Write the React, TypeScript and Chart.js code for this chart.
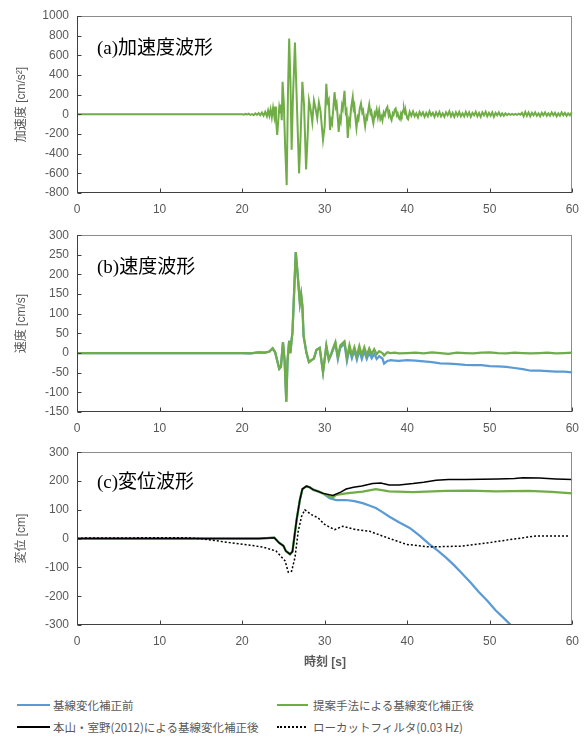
import React, { useEffect, useRef } from "react";
import { Chart, registerables } from "chart.js";
Chart.register(...registerables);

// ---------- data ----------
const X_MIN = 0;
const X_MAX = 60;
const X_STEP = 10;

// (a) acceleration [cm/s2]
const accTime = [0, 19.5, 20.0, 20.2, 20.4, 20.6, 20.8, 21.0, 21.2, 21.4, 21.6, 21.8, 22.0, 22.2, 22.4, 22.6, 22.8, 23.0, 23.15, 23.3, 23.45, 23.6, 23.75, 23.9, 24.0, 24.1, 24.25, 24.4, 24.5, 24.6, 24.7, 24.8, 24.9, 25.05, 25.2, 25.4, 25.55, 25.7, 25.85, 26.0, 26.15, 26.4, 26.6, 26.9, 27.05, 27.3, 27.5, 27.75, 27.95, 28.1, 28.3, 28.5, 28.7, 28.9, 29.1, 29.3, 29.5, 29.8, 30.0, 30.2, 30.35, 30.5, 30.65, 30.8, 30.9, 31.05, 31.2, 31.35, 31.45, 31.6, 31.7, 31.85, 31.95, 32.1, 32.2, 32.4, 32.55, 32.65, 32.8, 32.95, 33.05, 33.2, 33.4, 33.5, 33.6, 33.75, 33.85, 34.0, 34.1, 34.25, 34.4, 34.55, 34.65, 34.8, 34.9, 35.05, 35.15, 35.3, 35.4, 35.55, 35.65, 35.8, 35.9, 36.05, 36.15, 36.3, 36.45, 36.6, 36.75, 36.9, 37.0, 37.15, 37.3, 37.45, 37.6, 37.75, 37.85, 38.0, 38.1, 38.25, 38.35, 38.5, 38.6, 38.75, 38.85, 39.0, 39.1, 39.25, 39.35, 39.5, 39.6, 39.75, 39.85, 40.0, 40.1, 40.3, 40.5, 40.7, 40.9, 41.1, 41.3, 41.5, 41.7, 41.9, 42.1, 42.3, 42.5, 42.7, 42.9, 43.1, 43.3, 43.5, 43.7, 43.9, 44.1, 44.3, 44.5, 44.7, 44.9, 45.1, 45.3, 45.5, 45.7, 45.9, 46.1, 46.3, 46.5, 46.7, 46.9, 47.1, 47.3, 47.5, 47.7, 47.9, 48.1, 48.3, 48.5, 48.7, 48.9, 49.1, 49.3, 49.5, 49.7, 49.9, 50.1, 50.3, 50.5, 50.7, 50.9, 51.1, 51.3, 51.5, 51.7, 51.9, 52.1, 52.3, 52.5, 52.7, 52.9, 53.1, 53.3, 53.5, 53.7, 53.9, 54.1, 54.3, 54.5, 54.7, 54.9, 55.1, 55.3, 55.5, 55.7, 55.9, 56.1, 56.3, 56.5, 56.7, 56.9, 57.1, 57.3, 57.5, 57.7, 57.9, 58.1, 58.3, 58.5, 58.7, 58.9, 59.1, 59.3, 59.5, 59.7, 59.9, 60.0];
const accValue = [0, 0, 2, -3, 4, -2, 6, -5, 3, -8, 10, -6, 12, -10, 18, -14, 25, -20, 38, -15, 50, -30, 65, -20, 80, -50, -210, -40, 70, 20, 100, -60, 330, 120, -300, -720, 200, 770, 350, -360, 150, 730, 200, -600, -300, 330, 100, -560, -200, 140, 50, -80, 140, 60, -40, 120, 30, -260, -120, 310, 120, 150, -160, -60, -90, 60, 225, 80, 110, -50, -180, -40, -70, 90, 60, 240, 20, 40, -240, -60, -90, 60, 175, 60, 90, -60, -140, -30, -50, 60, 110, 20, 40, -60, -120, -20, -40, 50, 100, 10, 30, -50, -90, 10, -10, 50, -30, 40, -50, -20, -60, 20, -10, 50, 75, -10, 20, -40, -60, 10, -5, 50, 60, -10, 10, -40, -50, 10, -10, 40, 60, 0, 20, -40, -50, 25, -15, 30, -20, 10, -30, 25, -10, 20, -25, 15, -20, 30, -10, 15, -25, 20, -15, 25, -20, 10, -25, 20, -10, 30, -20, 15, -25, 20, -15, 25, -20, 10, -20, 25, -15, 20, -25, 15, -10, 25, -20, 15, -25, 20, -10, 25, -20, 15, -15, 20, -25, 15, -10, 20, -15, 10, -15, 10, -8, 6, -5, 5, -6, 4, -5, 6, -4, 15, -20, 25, -15, 20, -20, 15, -10, 20, -15, 10, -20, 15, -10, 20, -15, 10, -15, 20, -10, 15, -20, 10, -15, 20, -10, 15, -15, 10, -10, 15, 5];

// (b) velocity [cm/s]
const velTime = [0, 20, 21, 22, 22.8, 23.3, 23.7, 24.0, 24.5, 24.7, 24.95, 25.15, 25.35, 25.5, 25.7, 25.85, 26.0, 26.1, 26.5, 26.75, 27.0, 27.15, 27.3, 27.45, 27.8, 28.1, 28.4, 28.7, 29.0, 29.4, 29.8, 30.2, 30.5, 30.8, 31.3, 31.6, 31.9, 32.4, 32.7, 33.0, 33.3, 33.6, 33.9, 34.2, 34.5, 34.8, 35.1, 35.4, 35.7, 36.0, 36.3, 36.6, 37.0, 37.2, 37.6, 38.0, 38.5, 39.0, 40, 41, 42, 43, 44, 45, 46, 47, 48, 49, 50, 51, 52, 53, 54, 55, 56, 57, 58, 59, 60];
const velProposed = [0, 0, -1, 2, 1, 4, 12, 2, -40, -35, 27, -20, -124, -20, 31, 0, 35, 52, 257, 194, 127, 149, 120, 43, 0, -23, -18, -14, 8, 13, -49, 18, -15, 0, 28, -10, 20, 30, -12, 20, -5, 15, -8, 18, -5, 15, -5, 12, -2, 10, -3, 5, 0, -6, 2, 0, 1, -1, 0, 1, -1, 2, 0, -2, 1, 0, -1, 1, 2, 0, -1, 1, 0, -1, 0, 1, -1, 0, 1];
const velRaw = [0, 0, -1, 2, 1, 4, 12, 2, -40, -35, 27, -20, -124, -20, 31, 0, 35, 52, 257, 194, 127, 149, 120, 43, 0, -23, -18, -14, 8, 13, -49, 18, -18, -4, 24, -16, 14, 24, -20, 12, -13, 7, -17, 8, -15, 5, -15, 1, -13, -2, -15, -8, -14, -27, -20, -18, -19, -20, -18, -19, -21, -23, -26, -27, -28, -30, -31, -31, -33, -34, -35, -38, -41, -45, -45, -46, -47, -47, -49];

// (c) displacement [cm]
const dispRawTime = [0, 14, 19, 22, 23.9, 24.5, 25.0, 25.3, 25.8, 26.1, 26.6, 27.0, 27.3, 27.8, 28.2, 28.6, 29.2, 29.8, 30.6, 31.4, 32.6, 33.6, 34.6, 35.4, 36.2, 37.0, 37.8, 39.0, 40.3, 41.5, 42.7, 43.7, 44.7, 45.7, 46.7, 47.7, 48.7, 49.7, 50.7, 51.7, 52.6, 54.0];
const dispRaw = [0, 0, 0, 0, 3, -15, -25, -43, -54, -45, 65, 135, 172, 182, 178, 170, 164, 157, 140, 134, 134, 130, 123, 115, 106, 92, 77, 57, 37, 10, -20, -42, -66, -93, -123, -153, -186, -216, -249, -276, -302, -360];

const dispProposedTime = [0, 14, 19, 22, 23.9, 24.5, 25.0, 25.3, 25.8, 26.1, 26.6, 27.0, 27.3, 27.8, 28.2, 28.6, 29.2, 29.8, 30.6, 31.0, 31.4, 32.6, 34.6, 36.2, 37.8, 40.7, 44.7, 47.5, 50.7, 54.7, 57.5, 60];
const dispProposed = [0, 0, 0, 0, 3, -15, -25, -43, -54, -45, 65, 135, 172, 182, 178, 170, 164, 157, 146, 143, 152, 157, 163, 172, 164, 161, 166, 167, 164, 166, 162, 157];

const dispMotoyamaTime = [0, 14, 19, 22, 23.9, 24.5, 25.0, 25.3, 25.8, 26.1, 26.6, 27.0, 27.3, 27.8, 28.2, 28.6, 29.2, 29.8, 30.6, 31.0, 32.0, 32.6, 33.5, 34.5, 35.8, 36.8, 37.8, 39.0, 40.7, 42.0, 43.5, 45.0, 47.0, 49.0, 51.0, 53.0, 54.0, 56.0, 58.0, 60.0];
const dispMotoyama = [0, 0, 0, 0, 3, -15, -25, -43, -54, -45, 65, 135, 172, 182, 178, 170, 164, 157, 152, 150, 162, 172, 178, 183, 191, 193, 186, 186, 191, 196, 203, 205, 205, 206, 207, 209, 211, 210, 207, 205];

const dispLowcutTime = [0, 1, 13, 15, 18.5, 22.5, 24.1, 25.2, 25.6, 26.0, 26.4, 26.8, 27.2, 27.6, 28.4, 29.2, 30.0, 31.2, 32.2, 33.8, 35.4, 37.0, 38.2, 39.9, 42.7, 46.7, 49.9, 52.8, 55.6, 59.6];
const dispLowcut = [0, 2, 3, 0, -14, -29, -43, -77, -117, -113, -66, 26, 77, 100, 83, 72, 49, 31, 43, 31, 26, 9, -3, -20, -29, -26, -14, -2, 9, 9];

const legendLabels = ["基線変化補正前", "提案手法による基線変化補正後", "本山・室野(2012)による基線変化補正後", "ローカットフィルタ(0.03 Hz)"];
const panelTitles = ["(a)加速度波形", "(b)速度波形", "(c)変位波形"];
const yTitles = ["加速度 [cm/s²]", "速度 [cm/s]", "変位 [cm]"];
const xTitle = "時刻 [s]";

// ---------- styles ----------
const BLUE = "#5B9BD5";
const GREEN = "#70AD47";
const BLACK = "#000000";
const TICK_COLOR = "#595959";
const TICK_FONT = { family: "'Liberation Sans', Arial, sans-serif", size: 12 };
const TITLE_FONT = { family: "'Liberation Sans', 'Noto Sans CJK JP', sans-serif", size: 12 };

const zip = (t: number[], v: number[]) => t.map((x, i) => ({ x, y: v[i] }));

const framePlugin = {
  id: "frameTicks",
  afterDraw(chart: any) {
    const { ctx, chartArea: a, scales } = chart;
    ctx.save();
    ctx.lineWidth = 1;
    ctx.strokeStyle = "#8c8c8c";
    ctx.strokeRect(Math.round(a.left) + 0.5, Math.round(a.top) + 0.5, Math.round(a.right - a.left) - 1, Math.round(a.bottom - a.top) - 1);
    ctx.strokeStyle = "#404040";
    ctx.beginPath();
    const L = Math.round(a.left) + 0.5;
    const B = Math.round(a.bottom) - 0.5;
    ctx.moveTo(L, Math.round(a.top));
    ctx.lineTo(L, B);
    ctx.lineTo(Math.round(a.right), B);
    for (const t of scales.x.ticks) {
      const px = Math.round(scales.x.getPixelForValue(t.value)) + 0.5;
      ctx.moveTo(px, B);
      ctx.lineTo(px, B - 4);
    }
    for (const t of scales.y.ticks) {
      const py = Math.round(scales.y.getPixelForValue(t.value)) + 0.5;
      ctx.moveTo(L, py);
      ctx.lineTo(L + 4, py);
    }
    ctx.stroke();
    ctx.restore();
  },
};

type PanelProps = {
  top: number;
  height: number;
  padTop: number;
  xAxisHeight: number;
  yMin: number;
  yMax: number;
  yStep: number;
  yTitle: string;
  datasets: any[];
};

function Panel({ top, height, padTop, xAxisHeight, yMin, yMax, yStep, yTitle, datasets }: PanelProps) {
  const ref = useRef<HTMLCanvasElement | null>(null);
  useEffect(() => {
    if (!ref.current) return;
    const chart = new Chart(ref.current, {
      type: "line",
      data: { datasets },
      options: {
        animation: false,
        responsive: false,
        maintainAspectRatio: false,
        layout: { padding: { top: padTop, right: 15, bottom: 0, left: 0 } },
        plugins: { legend: { display: false }, tooltip: { enabled: false } },
        elements: { point: { radius: 0 }, line: { tension: 0 } },
        scales: {
          x: {
            type: "linear",
            min: X_MIN,
            max: X_MAX,
            ticks: { stepSize: X_STEP, color: TICK_COLOR, font: TICK_FONT, padding: 9, maxRotation: 0, callback: (v: any) => String(v) },
            grid: { display: false, drawTicks: false },
            border: { display: false },
            afterFit: (s: any) => {
              s.height = xAxisHeight;
            },
          },
          y: {
            type: "linear",
            min: yMin,
            max: yMax,
            ticks: { stepSize: yStep, color: TICK_COLOR, font: TICK_FONT, padding: 8, callback: (v: any) => String(v) },
            grid: { display: false, drawTicks: false },
            border: { display: false },
            title: { display: true, text: yTitle, color: TICK_COLOR, font: TITLE_FONT, padding: { top: 14, bottom: 0 } },
            afterFit: (s: any) => {
              s.width = 77;
            },
          },
        },
      } as any,
      plugins: [framePlugin],
    });
    return () => chart.destroy();
  }, []);
  return (
    <canvas
      ref={ref}
      width={588}
      height={height}
      style={{ position: "absolute", left: 0, top, width: 588, height, display: "block" }}
    />
  );
}

const lineDs = (label: string, t: number[], v: number[], color: string, width: number, dash: number[] = []) => ({
  label,
  data: zip(t, v),
  borderColor: color,
  backgroundColor: color,
  borderWidth: width,
  borderDash: dash,
  pointRadius: 0,
  fill: false,
});

const panelTitleStyle = (top: number): React.CSSProperties => ({
  position: "absolute",
  left: 97,
  top,
  fontFamily: "'Liberation Serif', 'Noto Sans CJK JP', serif",
  fontSize: 19,
  lineHeight: "22px",
  color: "#000",
  whiteSpace: "nowrap",
});

const legendTextStyle: React.CSSProperties = {
  position: "absolute",
  fontFamily: "'Noto Sans CJK JP', 'Liberation Sans', sans-serif",
  fontSize: 11.5,
  lineHeight: "14px",
  color: "#595959",
  whiteSpace: "nowrap",
};

export default function App() {
  return (
    <div style={{ position: "absolute", left: 0, top: 0, width: 588, height: 738, background: "#fff", overflow: "hidden" }}>
      <Panel
        top={0}
        height={225}
        padTop={16}
        xAxisHeight={32}
        yMin={-800}
        yMax={1000}
        yStep={200}
        yTitle={yTitles[0]}
        datasets={[lineDs(legendLabels[1], accTime, accValue, GREEN, 2)]}
      />
      <Panel
        top={220}
        height={225}
        padTop={13}
        xAxisHeight={33}
        yMin={-150}
        yMax={300}
        yStep={50}
        yTitle={yTitles[1]}
        datasets={[
          lineDs(legendLabels[1], velTime, velProposed, GREEN, 2.25),
          lineDs(legendLabels[0], velTime, velRaw, BLUE, 2.25),
        ]}
      />
      <Panel
        top={437}
        height={218}
        padTop={13}
        xAxisHeight={30}
        yMin={-300}
        yMax={300}
        yStep={100}
        yTitle={yTitles[2]}
        datasets={[
          lineDs(legendLabels[2], dispMotoyamaTime, dispMotoyama, BLACK, 1.5),
          lineDs(legendLabels[3], dispLowcutTime, dispLowcut, BLACK, 1.5, [2, 2]),
          lineDs(legendLabels[1], dispProposedTime, dispProposed, GREEN, 2.25),
          lineDs(legendLabels[0], dispRawTime, dispRaw, BLUE, 2.25),
        ]}
      />
      <div style={panelTitleStyle(37)}>{panelTitles[0]}</div>
      <div style={panelTitleStyle(256)}>{panelTitles[1]}</div>
      <div style={panelTitleStyle(471)}>{panelTitles[2]}</div>
      <div
        style={{
          position: "absolute",
          left: 0,
          width: 650,
          top: 655,
          textAlign: "center",
          fontFamily: "'Liberation Sans', 'Noto Sans CJK JP', sans-serif",
          fontSize: 12,
          fontWeight: "bold",
          color: "#595959",
          lineHeight: "14px",
        }}
      >
        {xTitle}
      </div>
      {/* legend */}
      <div style={{ position: "absolute", left: 17, top: 704, width: 33, height: 0, borderTop: `2px solid ${BLUE}` }} />
      <div style={{ ...legendTextStyle, left: 53, top: 698 }}>{legendLabels[0]}</div>
      <div style={{ position: "absolute", left: 277, top: 704, width: 31, height: 0, borderTop: `2px solid ${GREEN}` }} />
      <div style={{ ...legendTextStyle, left: 313, top: 698 }}>{legendLabels[1]}</div>
      <div style={{ position: "absolute", left: 17, top: 726, width: 33, height: 0, borderTop: `2px solid ${BLACK}` }} />
      <div style={{ ...legendTextStyle, left: 53, top: 720 }}>{legendLabels[2]}</div>
      <div style={{ position: "absolute", left: 277, top: 726, width: 29, height: 0, borderTop: `2px dotted ${BLACK}` }} />
      <div style={{ ...legendTextStyle, left: 313, top: 720 }}>{legendLabels[3]}</div>
    </div>
  );
}
